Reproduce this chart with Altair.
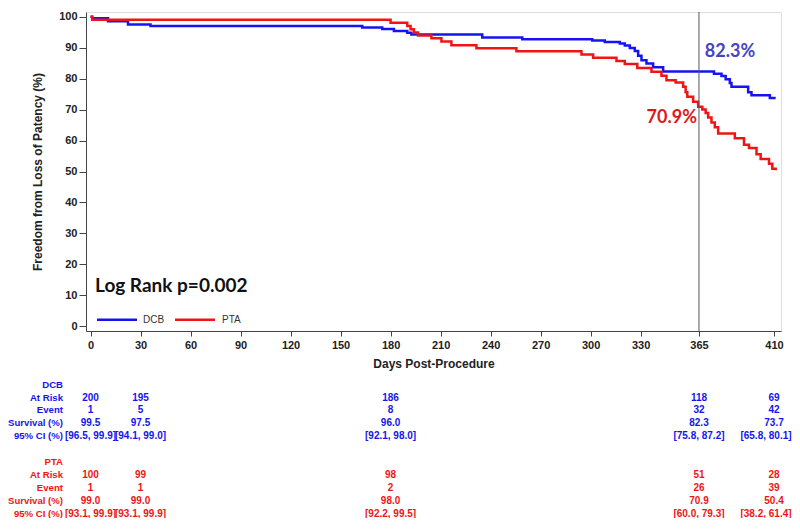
import altair as alt
import pandas as pd

# ---------------- data ----------------
dcb_days = [0, 1, 10.5, 22.5, 36, 163, 175, 182, 190, 192.5, 235, 259, 301, 308.5, 317.5,
            320.5, 323.5, 326.5, 328.5, 330.5, 333.5, 337.5, 343.5, 374, 378.5, 381, 383.5,
            384.5, 394.5, 396.5, 407.5, 411]
dcb_surv = [100, 99.5, 98.5, 97.5, 97.0, 96.5, 96.0, 95.4, 94.8, 94.2, 93.3, 92.7, 92.3, 91.8, 91.3,
            90.7, 89.9, 88.9, 87.4, 85.9, 84.9, 83.7, 82.3, 81.6, 80.8, 79.8, 78.6,
            77.4, 75.6, 74.6, 73.7, 73.7]

pta_days = [0, 1, 180, 190, 192, 194, 196.5, 204.5, 210.5, 216.5, 231.5, 255.5, 294.5, 301.5,
            315.5, 320.5, 328, 336.5, 342.5, 345.5, 351, 355.5, 357, 358, 361.5, 364.5, 367,
            369, 370.5, 372.5, 374.5, 376.5, 386.5, 392, 395, 399.5, 402, 407, 409, 411]
pta_surv = [100, 99.0, 98.0, 97.0, 95.9, 94.9, 93.9, 93.0, 92.0, 90.8, 89.8, 88.8, 87.8, 86.7,
            85.7, 84.7, 83.4, 82.2, 80.9, 79.5, 78.7, 77.4, 75.6, 74.1, 72.5, 70.9, 70.0,
            68.9, 67.4, 65.8, 64.3, 62.3, 60.7, 58.6, 57.6, 55.6, 54.0, 52.5, 50.9, 50.4]

groups = ["DCB", "PTA"]
table_days = [0, 30, 180, 365, 410]
row_labels = ["At Risk", "Event", "Survival (%)", "95% CI (%)"]
dcb_at_risk = ["200", "195", "186", "118", "69"]
dcb_event = ["1", "5", "8", "32", "42"]
dcb_survival = ["99.5", "97.5", "96.0", "82.3", "73.7"]
dcb_ci = ["[96.5, 99.9]", "[94.1, 99.0]", "[92.1, 98.0]", "[75.8, 87.2]", "[65.8, 80.1]"]
pta_at_risk = ["100", "99", "98", "51", "28"]
pta_event = ["1", "1", "2", "26", "39"]
pta_survival = ["99.0", "99.0", "98.0", "70.9", "50.4"]
pta_ci = ["[93.1, 99.9]", "[93.1, 99.9]", "[92.2, 99.5]", "[60.0, 79.3]", "[38.2, 61.4]"]

x_ticks = [0, 30, 60, 90, 120, 150, 180, 210, 240, 270, 300, 330, 365, 410]
y_ticks = [0, 10, 20, 30, 40, 50, 60, 70, 80, 90, 100]
landmark_day = [365]
annot_dcb = {"day": 368.5, "surv": 88.6, "text": "82.3%"}
annot_pta = {"day": 363.8, "surv": 67.3, "text": "70.9%"}
logrank = {"day": 2.7, "surv": 13.0, "text": "Log Rank p=0.002"}

# ---------------- frames ----------------
curves = pd.concat([
    pd.DataFrame({"day": dcb_days, "surv": dcb_surv, "group": "DCB"}),
    pd.DataFrame({"day": pta_days, "surv": pta_surv, "group": "PTA"}),
])

rows = []
blocks = {"DCB": [dcb_at_risk, dcb_event, dcb_survival, dcb_ci],
          "PTA": [pta_at_risk, pta_event, pta_survival, pta_ci]}
labels = []
for gi, g in enumerate(groups):
    base = gi * 6
    labels.append({"row": base, "text": g, "group": g})
    for ri, (lab, vals) in enumerate(zip(row_labels, blocks[g])):
        labels.append({"row": base + ri + 1, "text": lab, "group": g})
        for d, v in zip(table_days, vals):
            rows.append({"day": d, "row": base + ri + 1, "text": v, "group": g})
table = pd.DataFrame(rows)
label_df = pd.DataFrame(labels)
is_edge = (table["day"] == table_days[-1]) & table["text"].str.startswith("[")
table_main = table[~is_edge]
table_edge = table[is_edge]

W, H = 695, 319
TOP = 4
XDOM = [-2.7, 414.2]
YDOM = [-1.5, 101.5]
FONT = "Liberation Sans"
color = alt.Color("group:N", scale=alt.Scale(domain=groups, range=["#1414F0", "#F01414"]), legend=None)
tcolor = alt.Color("group:N", scale=alt.Scale(domain=groups, range=["#1F1FD6", "#E8161B"]), legend=None)

xaxis = alt.Axis(values=x_ticks, title="Days Post-Procedure", grid=False, labelFont=FONT,
                 labelFontSize=11, labelFontWeight="bold", labelColor="#222", tickSize=5,
                 tickColor="#444", domainColor="#444", titleFont=FONT, titleFontSize=12,
                 titleFontWeight="bold", titleColor="#222", titlePadding=8, labelPadding=3,
                 labelFlush=False, labelOverlap=False)
yaxis = alt.Axis(values=y_ticks, tickCount=11, title="Freedom from Loss of Patency (%)", grid=False,
                 labelFont=FONT, labelFontSize=11, labelFontWeight="bold", labelColor="#222",
                 tickSize=7, tickColor="#444", domainColor="#444", titleFont=FONT,
                 titleFontSize=12, titleFontWeight="bold", titleColor="#222", titlePadding=14,
                 labelPadding=2, labelOverlap=False, labelFlush=False)

X = alt.X("day:Q", scale=alt.Scale(domain=XDOM, nice=False, zero=False), axis=xaxis)
Y = alt.Y("surv:Q", scale=alt.Scale(domain=YDOM, nice=False, zero=False), axis=yaxis)

lines = alt.Chart(curves).mark_line(interpolate="step-after", strokeWidth=2.5).encode(
    x=X, y=Y, color=color, detail="group:N")

rule = alt.Chart(pd.DataFrame({"day": landmark_day})).mark_rule(
    color="#555", strokeWidth=1).encode(x=X)

def annot(d, col, align, size, font, weight="bold"):
    return alt.Chart(pd.DataFrame([d])).mark_text(
        align=align, baseline="middle", fontSize=size, font=font, fontWeight=weight,
        color=col).encode(x=X, y=Y, text="text:N")

a1 = annot(annot_dcb, "#4545C0", "left", 18, "Lato")
a2 = annot(annot_pta, "#E0161B", "right", 18, "Lato")
a3 = annot(logrank, "#111111", "left", 19, "Lato")

leg_y = 307.7
leg1 = alt.Chart(pd.DataFrame({"group": ["DCB"]})).mark_rule(strokeWidth=2.5).encode(
    x=alt.value(11), x2=alt.value(51), y=alt.value(leg_y), color=color)
leg2 = alt.Chart(pd.DataFrame({"group": ["PTA"]})).mark_rule(strokeWidth=2.5).encode(
    x=alt.value(89), x2=alt.value(129), y=alt.value(leg_y), color=color)
legt1 = alt.Chart(pd.DataFrame({"t": ["DCB"]})).mark_text(
    align="left", baseline="middle", fontSize=10, font=FONT, color="#333").encode(
    x=alt.value(57), y=alt.value(leg_y), text="t:N")
legt2 = alt.Chart(pd.DataFrame({"t": ["PTA"]})).mark_text(
    align="left", baseline="middle", fontSize=10, font=FONT, color="#333").encode(
    x=alt.value(136), y=alt.value(leg_y), text="t:N")

main = alt.layer(lines, rule, a1, a2, a3, leg1, leg2, legt1, legt2)

RY = alt.Y("row:Q", scale=alt.Scale(domain=[0, 10], range=[376.6 - TOP, 505.6 - TOP], nice=False, zero=False), axis=None)
tvals = alt.Chart(table_main).mark_text(align="center", baseline="middle", fontSize=10, font=FONT,
                                        fontWeight="bold").encode(
    x=X, y=RY, text="text:N", color=tcolor)
tedge = alt.Chart(table_edge).mark_text(align="center", baseline="middle", fontSize=10, font=FONT,
                                        fontWeight="bold", dx=-8).encode(
    x=X, y=RY, text="text:N", color=tcolor)
tlabs = alt.Chart(label_df).mark_text(align="right", baseline="middle", fontSize=9.6, font=FONT,
                                      fontWeight="bold").encode(
    x=alt.value(-23), y=RY, text="text:N", color=tcolor)

chart = alt.layer(main, tvals, tedge, tlabs).resolve_scale(y="independent").properties(
    width=W, height=H,
    autosize=alt.AutoSizeParams(type="none"),
    padding={"left": 78, "top": TOP, "right": 11, "bottom": 187},
).configure_view(stroke="#444", strokeWidth=1).configure(background="white")

chart.save("out.html", embed_options={"renderer": "svg", "actions": False})
